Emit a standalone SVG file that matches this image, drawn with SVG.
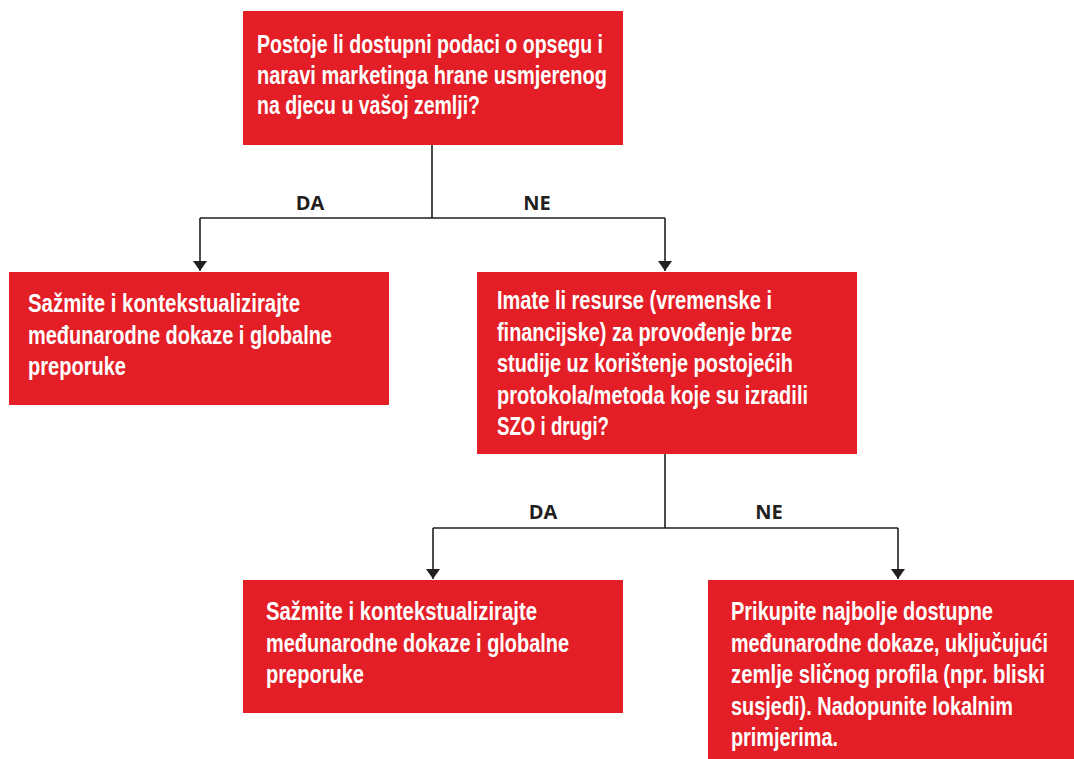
<svg xmlns="http://www.w3.org/2000/svg" width="1074" height="759" viewBox="0 0 1074 759">
<defs>
<style>
.box{fill:#e31e26;}
.t{font-family:"Liberation Sans",Arial,sans-serif;font-weight:bold;font-size:26px;fill:#ffffff;}
.lbl{font-family:"Open Sans","Liberation Sans",sans-serif;font-weight:bold;font-size:20px;fill:#231f20;text-anchor:middle;}
.c{fill:none;stroke:#231f20;stroke-width:1.6;}
</style>
<marker id="arr" viewBox="0 0 10 14" refX="10" refY="7" markerWidth="10" markerHeight="14" markerUnits="userSpaceOnUse" orient="auto">
<path d="M0,0 L10,7 L0,14 Z" fill="#231f20"/>
</marker>
</defs>
<rect width="1074" height="759" fill="#ffffff"/>
<g id="connectors">
<path class="c" d="M432,145 V218 M200,218 H665"/>
<path class="c" d="M200,218 V271" marker-end="url(#arr)"/>
<path class="c" d="M665,218 V271" marker-end="url(#arr)"/>
<path class="c" d="M665,454 V528 M433,528 H898"/>
<path class="c" d="M433,528 V579" marker-end="url(#arr)"/>
<path class="c" d="M898,528 V579" marker-end="url(#arr)"/>
<text class="lbl" x="310" y="210">DA</text>
<text class="lbl" x="537" y="210">NE</text>
<text class="lbl" x="543" y="519">DA</text>
<text class="lbl" x="769" y="519">NE</text>
</g>
<g id="q1">
<rect class="box" x="243" y="11" width="380" height="134"/>
<g transform="scale(0.75,1)">
<text class="t" x="342.67" y="53" textLength="461.33" lengthAdjust="spacingAndGlyphs">Postoje li dostupni podaci o opsegu i</text>
<text class="t" x="342.67" y="84" textLength="466.67" lengthAdjust="spacingAndGlyphs">naravi marketinga hrane usmjerenog</text>
<text class="t" x="342.67" y="114" textLength="297.33" lengthAdjust="spacingAndGlyphs">na djecu u vašoj zemlji?</text>
</g>
</g>
<g id="a1">
<rect class="box" x="9" y="272" width="380" height="133"/>
<g transform="scale(0.75,1)">
<text class="t" x="37.33" y="312" textLength="362.67" lengthAdjust="spacingAndGlyphs">Sažmite i kontekstualizirajte</text>
<text class="t" x="37.33" y="344" textLength="405.33" lengthAdjust="spacingAndGlyphs">međunarodne dokaze i globalne</text>
<text class="t" x="37.33" y="375" textLength="130.67" lengthAdjust="spacingAndGlyphs">preporuke</text>
</g>
</g>
<g id="q2">
<rect class="box" x="477" y="272" width="380" height="182"/>
<g transform="scale(0.75,1)">
<text class="t" x="662.67" y="309" textLength="366.67" lengthAdjust="spacingAndGlyphs">Imate li resurse (vremenske i</text>
<text class="t" x="662.67" y="341" textLength="393.33" lengthAdjust="spacingAndGlyphs">financijske) za provođenje brze</text>
<text class="t" x="662.67" y="372" textLength="394.67" lengthAdjust="spacingAndGlyphs">studije uz korištenje postojećih</text>
<text class="t" x="662.67" y="404" textLength="414.67" lengthAdjust="spacingAndGlyphs">protokola/metoda koje su izradili</text>
<text class="t" x="662.67" y="435" textLength="149.33" lengthAdjust="spacingAndGlyphs">SZO i drugi?</text>
</g>
</g>
<g id="a2">
<rect class="box" x="243" y="580" width="380" height="133"/>
<g transform="scale(0.75,1)">
<text class="t" x="354.67" y="620" textLength="361.33" lengthAdjust="spacingAndGlyphs">Sažmite i kontekstualizirajte</text>
<text class="t" x="354.67" y="652" textLength="404" lengthAdjust="spacingAndGlyphs">međunarodne dokaze i globalne</text>
<text class="t" x="354.67" y="683" textLength="130.67" lengthAdjust="spacingAndGlyphs">preporuke</text>
</g>
</g>
<g id="a3">
<rect class="box" x="708" y="580" width="366" height="179"/>
<g transform="scale(0.75,1)">
<text class="t" x="974.67" y="620" textLength="349.33" lengthAdjust="spacingAndGlyphs">Prikupite najbolje dostupne</text>
<text class="t" x="974.67" y="652" textLength="422.67" lengthAdjust="spacingAndGlyphs">međunarodne dokaze, uključujući</text>
<text class="t" x="974.67" y="683" textLength="418.67" lengthAdjust="spacingAndGlyphs">zemlje sličnog profila (npr. bliski</text>
<text class="t" x="974.67" y="715" textLength="376" lengthAdjust="spacingAndGlyphs">susjedi). Nadopunite lokalnim</text>
<text class="t" x="974.67" y="746" textLength="142.67" lengthAdjust="spacingAndGlyphs">primjerima.</text>
</g>
</g>
</svg>
